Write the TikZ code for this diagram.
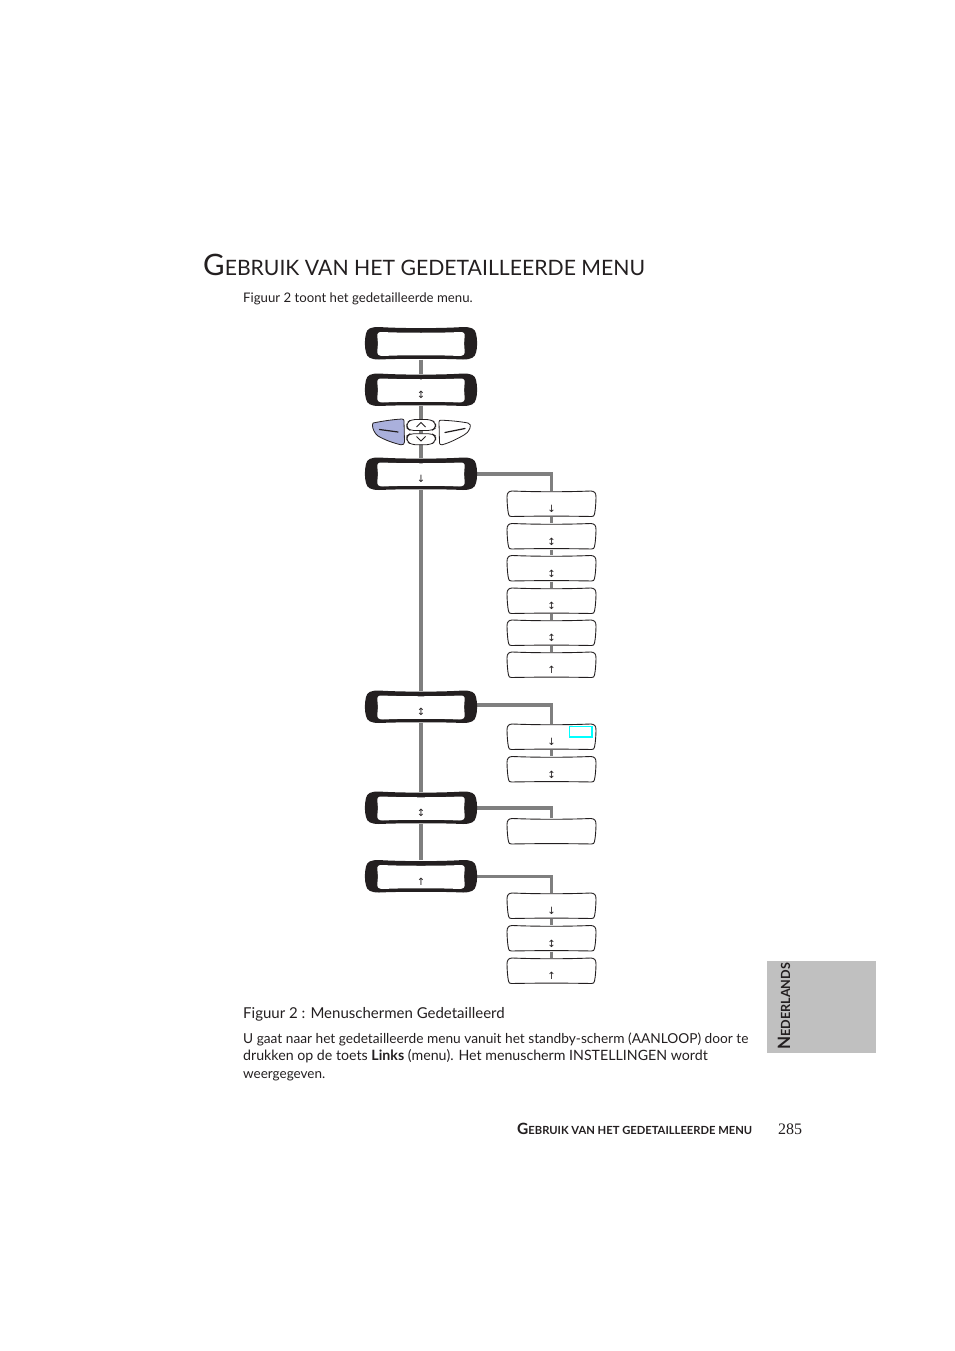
\documentclass[tikz,border=0pt]{standalone}
\usepackage{fontspec}
\setmainfont{Lato}
\newfontfamily\numfont{Liberation Serif}
\newfontfamily\arrowfont{DejaVu Sans}
\usetikzlibrary{backgrounds}
\definecolor{linegray}{HTML}{7F7F7F}
\definecolor{keyblue}{HTML}{AAB0DC}
\definecolor{tabgray}{HTML}{C0C0C0}
\definecolor{inkblack}{HTML}{231F20}
\definecolor{markcyan}{HTML}{00FFFF}
\tikzset{
  x=1pt,y=-1pt,
  conn/.style={draw=linegray,line width=3.4pt},
  holder/.style={inner sep=0pt,minimum width=#1,minimum height=26pt},
  glyph/.style={font=\arrowfont\fontsize{10}{10}\selectfont,text=inkblack,inner sep=0pt,anchor=center},
  keyline/.style={draw=inkblack,line width=.8pt,line join=round},
  keymark/.style={draw=inkblack,line width=1.2pt,line cap=round},
  txt/.style={anchor=base west,inner sep=0pt,text=inkblack},
}
\newcommand{\darkbox}[4]{% name, x, y, glyph
  \fill[inkblack,shift={(#2,#3)}] (-55,-10) .. controls (-54,-15) and (-50,-16.5) .. (-42,-16.5)
    .. controls (-20,-15) and (20,-15) .. (42,-16.5) .. controls (50,-16.5) and (54,-15) .. (55,-10)
    .. controls (56.5,-4) and (56.5,4) .. (55,9) .. controls (54,14) and (50,16) .. (42,16)
    .. controls (20,15) and (-20,15) .. (-42,16) .. controls (-50,16) and (-54,14) .. (-55,9)
    .. controls (-56.5,4) and (-56.5,-4) .. (-55,-10) -- cycle;
  \fill[white,shift={(#2,#3)}] (-39,-11.5) .. controls (-20,-10.5) and (20,-10.5) .. (39,-11.5)
    .. controls (42.5,-11.5) and (44,-10.5) .. (43.7,-7) .. controls (43,-3) and (43,3) .. (43.7,7)
    .. controls (44,11) and (42.5,12.5) .. (38,12.5) .. controls (20,11.5) and (-20,11.5) .. (-38,12.5)
    .. controls (-42.5,12.5) and (-44,11) .. (-43.7,7) .. controls (-43,3) and (-43,-3) .. (-43.7,-7)
    .. controls (-44,-10.5) and (-42.5,-11.5) .. (-39,-11.5) -- cycle;
  \node[holder=112pt,minimum height=32pt] (#1) at (#2,#3) {};
  \node[glyph] (#1g) at (#2,#3+5) {#4};
}
\newcommand{\lightbox}[4]{% name, x, y, glyph
  \filldraw[fill=white,draw=inkblack,line width=.9pt,line join=round,shift={(#2,#3)}]
    (-39,-13) .. controls (-15,-12) and (15,-12) .. (39,-13)
    .. controls (43,-13) and (44.5,-11) .. (44.5,-7) .. controls (44.5,-3) and (44,6) .. (43,10)
    .. controls (42.5,12) and (42,12.5) .. (40,12.5) .. controls (15,12) and (-15,12) .. (-40,12.5)
    .. controls (-42,12.5) and (-42.5,12) .. (-43,10) .. controls (-44,6) and (-44.5,-3) .. (-44.5,-7)
    .. controls (-44.5,-11) and (-43,-13) .. (-39,-13) -- cycle;
  \node[holder=89pt] (#1) at (#2,#3) {};
  \node[glyph] (#1g) at (#2,#3+5) {#4};
}
\begin{document}
\begin{tikzpicture}
\useasboundingbox (0,0) rectangle (954,1351);

% grey language tab
\node[fill=tabgray,inner sep=0pt,minimum width=109pt,minimum height=92pt,anchor=north west] (tab) at (767,961) {};
\node[txt,rotate=90,font=\fontsize{12.6}{12}\selectfont\bfseries] (lang) at (790,1050) {{\fontsize{17}{17}\selectfont N}EDERLANDS};

% heading and body text
\node[txt,font=\fontsize{21.2}{21}\selectfont] (title) at (203,275) {{\fontsize{29.5}{29}\selectfont G}EBRUIK VAN HET GEDETAILLEERDE MENU};
\node[txt,font=\fontsize{13.2}{14}\selectfont] (intro) at (243,302) {Figuur 2 toont het gedetailleerde menu.};
\node[txt,font=\fontsize{15}{15}\selectfont] (cap) at (243,1018) {Figuur 2 : Menuschermen Gedetailleerd};
\node[txt,font=\fontsize{13.7}{14}\selectfont] (p1) at (243,1043) {U gaat naar het gedetailleerde menu vanuit het standby-scherm (AANLOOP) door te};
\node[txt,font=\fontsize{14.2}{14}\selectfont] (p2) at (243,1060) {drukken op de toets \textbf{Links} (menu). Het menuscherm INSTELLINGEN wordt};
\node[txt,font=\fontsize{13.5}{14}\selectfont] (p3) at (243,1078) {weergegeven.};
\node[txt,font=\fontsize{11.2}{11}\selectfont\bfseries] (foot) at (517,1134) {{\fontsize{15.5}{15}\selectfont G}EBRUIK VAN HET GEDETAILLEERDE MENU};
\node[txt,font=\numfont\fontsize{16}{16}\selectfont] (page) at (778,1134) {285};

% dark screens
\darkbox{d1}{421}{343.5}{}
\darkbox{d2}{421}{390}{↕}
\darkbox{d3}{421}{474}{↓}
\darkbox{d4}{421}{707}{↕}
\darkbox{d5}{421}{808}{↕}
\darkbox{d6}{421}{876.5}{↑}

% light screens
\lightbox{a1}{551.5}{504}{↓}
\lightbox{a2}{551.5}{536.5}{↕}
\lightbox{a3}{551.5}{568.5}{↕}
\lightbox{a4}{551.5}{601}{↕}
\lightbox{a5}{551.5}{633}{↕}
\lightbox{a6}{551.5}{665}{↑}
\lightbox{b1}{551.5}{737}{↓}
\lightbox{b2}{551.5}{769.5}{↕}
\lightbox{c1}{551.5}{831.5}{}
\lightbox{e1}{551.5}{906}{↓}
\lightbox{e2}{551.5}{938.5}{↕}
\lightbox{e3}{551.5}{971}{↑}

% cyan marker
\draw[draw=markcyan,line width=1.2pt] (569.5,726.5) rectangle (592,737);

% keypad
\filldraw[fill=keyblue,keyline] (373,423) .. controls (383,421) and (393,419.5) .. (402,419) .. controls (403.5,419) and (404,420) .. (404,421)
  -- (404.5,442) .. controls (404.5,444) and (403,445) .. (401,444.8) .. controls (393,443) and (385,440) .. (378,436) .. controls (375,434) and (372,428) .. (372.5,425) -- cycle;
\draw[keymark] (379.5,429.5) -- (398,432);
\filldraw[fill=white,keyline] (439,422) .. controls (439,420.5) and (440,420) .. (441,420.2) .. controls (450,420.5) and (460,421.5) .. (468,423) .. controls (470.5,423.5) and (471,426) .. (470,428)
  .. controls (468,432) and (467,433.5) .. (464,435) .. controls (457,439) and (449,443) .. (442,444.8) .. controls (440.5,445) and (439.5,444) .. (439.5,443) -- cycle;
\draw[keymark] (445,432.5) -- (465,428.5);
\filldraw[fill=white,keyline,rounded corners=4pt] (406.7,423) -- (411,419.5) -- (431,419.5) -- (435.7,423) -- (435.7,428) -- (432,430.5) -- (410,430.5) -- (406.7,428) -- cycle;
\filldraw[fill=white,keyline,rounded corners=4pt] (406.7,436) -- (410,433.7) -- (432,433.7) -- (435.7,436) -- (435.7,441) -- (431,444.7) -- (411,444.7) -- (406.7,441) -- cycle;
\draw[keymark,line cap=butt,line width=1pt] (416.5,427) -- (421,422.5) -- (425.5,427);
\draw[keymark,line cap=butt,line width=1pt] (416.5,436.5) -- (421,441) -- (425.5,436.5);

% connectors, behind the screens
\begin{scope}[on background layer]
  \draw[conn] (d1) -- (d2);
  \draw[conn] (d2) -- (d3);
  \draw[conn] (d3) -- (d4);
  \draw[conn] (d4) -- (d5);
  \draw[conn] (d5) -- (d6);
  \draw[conn] (d3.east) -| (a1.north);
  \draw[conn] (a1) -- (a2);
  \draw[conn] (a2) -- (a3);
  \draw[conn] (a3) -- (a4);
  \draw[conn] (a4) -- (a5);
  \draw[conn] (a5) -- (a6);
  \draw[conn] ([yshift=2pt]d4.east) -| (b1.north);
  \draw[conn] (b1) -- (b2);
  \draw[conn] (d5.east) -| (c1.north);
  \draw[conn] (d6.east) -| (e1.north);
  \draw[conn] (e1) -- (e2);
  \draw[conn] (e2) -- (e3);
\end{scope}
\end{tikzpicture}
\end{document}
